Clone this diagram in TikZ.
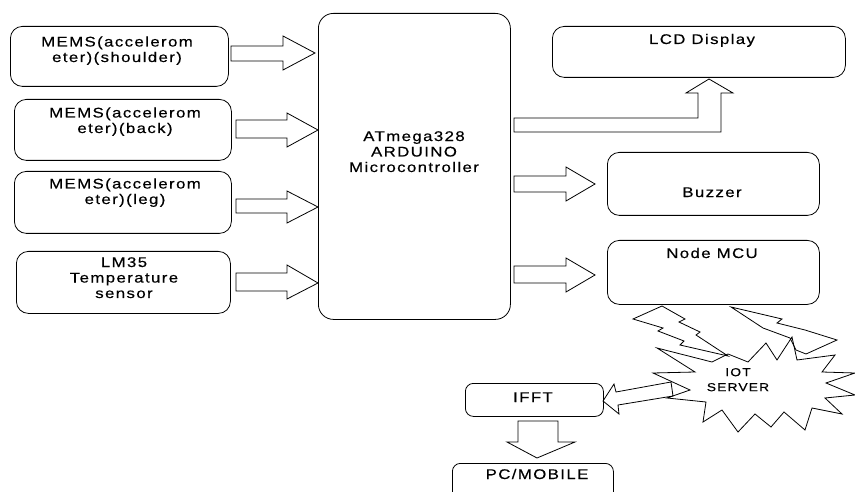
\documentclass[tikz,border=0pt]{standalone}
\usepackage{fontspec}
\setmainfont{Liberation Sans}[LetterSpace=10,FakeStretch=1.2,FakeBold=0.4]
\begin{document}
\begin{tikzpicture}[x=1pt,y=-1pt,
  box/.style={draw, line width=0.8pt, rounded corners=12pt, anchor=north west, inner sep=0pt},
  txt/.style={font=\fontsize{14}{15.5}\selectfont, align=center, inner sep=0pt, text height=10pt, text depth=0pt},
  small/.style={font=\fontsize{11.5}{15}\selectfont, align=center, inner sep=0pt, text height=8.3pt, text depth=0pt},
  blk/.style={draw, line width=0.8pt, line join=miter}]
\useasboundingbox (0,0) rectangle (855,492);
\clip (0,0) rectangle (855,492);

% input boxes
\node[box, minimum width=218pt, minimum height=60pt] (b1) at (10,26) {};
\node[box, minimum width=217pt, minimum height=61pt] (b2) at (14,99) {};
\node[box, minimum width=217pt, minimum height=62pt] (b3) at (14,171) {};
\node[box, minimum width=214pt, minimum height=62pt] (b4) at (16,251) {};
% text nodes are placed at the cap middle of their last line
\node[txt] (t1) at (117,57) {MEMS(accelerom\\eter)(shoulder)};
\node[txt] (t2) at (125,128) {MEMS(accelerom\\eter)(back)};
\node[txt] (t3) at (125,199) {MEMS(accelerom\\eter)(leg)};
\node[txt] (t4) at (124,293) {LM35\\Temperature\\sensor};

% microcontroller
\node[box, rounded corners=15pt, minimum width=192pt, minimum height=306pt] (mc) at (318,13) {};
\node[txt] (mct) at (414,167) {ATmega328\\ARDUINO\\Microcontroller};

% outputs
\node[box, minimum width=293pt, minimum height=51pt] (lcd) at (552,26) {};
\node[txt] (lcdt) at (702,39) {LCD Display};
\node[box, minimum width=212pt, minimum height=63pt] (buz) at (607,152) {};
\node[txt] (buzt) at (712,192) {Buzzer};
\node[box, minimum width=212pt, minimum height=64pt] (nmcu) at (607,240) {};
\node[txt] (nmcut) at (712,253) {Node MCU};

% cloud side
\node[box, rounded corners=8pt, minimum width=138pt, minimum height=33pt] (ifft) at (465,383) {};
\node[txt] (ifftt) at (533,397) {IFFT};
\node[box, rounded corners=8pt, minimum width=161pt, minimum height=45pt] (pc) at (452,463) {};
\node[txt] (pct) at (537,474) {PC/MOBILE};

% block arrows into the controller
\draw[blk] (231,46) -- (283,46) -- (283,36) -- (315,53) -- (283,70) -- (283,61) -- (231,61) -- cycle;
\draw[blk] (236,120) -- (287,120) -- (287,113) -- (318,130) -- (287,147) -- (287,138) -- (236,138) -- cycle;
\draw[blk] (236,199) -- (287,199) -- (287,191) -- (318,207) -- (287,223) -- (287,213) -- (236,213) -- cycle;
\draw[blk] (236,273) -- (287,273) -- (287,265) -- (318,283) -- (287,299) -- (287,291) -- (236,291) -- cycle;

% block arrows out of the controller
\draw[blk] (514,118) -- (698,118) -- (698,93) -- (686,93) -- (709,79) -- (733,93) -- (721,93) -- (721,132) -- (514,132) -- cycle;
\draw[blk] (514,176) -- (566,176) -- (566,167) -- (595,184) -- (566,201) -- (566,192) -- (514,192) -- cycle;
\draw[blk] (514,266) -- (566,266) -- (566,258) -- (595,275) -- (566,292) -- (566,283) -- (514,283) -- cycle;

% lightning bolts
\draw[blk] (662,306) -- (685,319) -- (679,322) -- (700,332) -- (696,335) -- (728,356)
  -- (680,345) -- (684,341) -- (658,331) -- (663,328) -- (633,319) -- cycle;
\draw[blk] (731,307) -- (782,319) -- (777,323) -- (805,330) -- (837,340) -- (806,354)
  -- (796,350) -- (790,338) -- (763,328) -- cycle;

% IOT server star
\draw[blk] (792,337) -- (797,360) -- (835,355) -- (822,372) -- (855,373) -- (826,383)
  -- (855,395) -- (825,398) -- (842,414) -- (812,408) -- (805,430) -- (784,412)
  -- (771,427) -- (755,414) -- (738,432) -- (722,410) -- (703,422) -- (706,402)
  -- (667,398) -- (690,390) -- (653,373) -- (695,372) -- (657,348) -- (712,362)
  -- (728,354) -- (748,362) -- (766,343) -- (777,360) -- cycle;
\node[small] (iot) at (738,387) {IOT\\SERVER};

% server to IFFT
\draw[blk] (603,401) -- (614,384) -- (616,392) -- (671,382) -- (673,396) -- (618,405) -- (619,414) -- cycle;

% IFFT to PC/MOBILE
\draw[blk] (518,421) -- (558,421) -- (558,442) -- (575,442) -- (537,458) -- (507,442) -- (518,442) -- cycle;
\end{tikzpicture}
\end{document}
